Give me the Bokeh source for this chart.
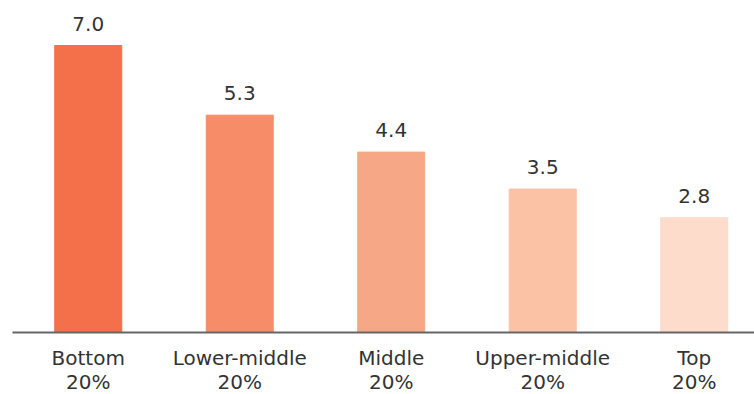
from bokeh.plotting import figure
from bokeh.models import ColumnDataSource, Range1d, FixedTicker
from bokeh.embed import file_html
from bokeh.resources import INLINE
from bokeh.core.properties import value

categories = ["Bottom\n20%", "Lower-middle\n20%", "Middle\n20%", "Upper-middle\n20%", "Top\n20%"]
values = [7.0, 5.3, 4.4, 3.5, 2.8]
colors = ["#F3704A", "#F68D68", "#F6A886", "#FBC2A5", "#FDDCCB"]
labels = ["7.0", "5.3", "4.4", "3.5", "2.8"]

xs = list(range(len(categories)))
src = ColumnDataSource(dict(x=xs, top=values, color=colors, label=labels))

p = figure(frame_width=742, frame_height=332, output_backend="svg", toolbar_location=None,
           x_range=Range1d(-0.5, 4.398), y_range=Range1d(0, 332/41.0),
           min_border_left=12, min_border_right=0, min_border_top=0, min_border_bottom=0)
p.vbar(x="x", top="top", width=67/151.5, color="color", source=src)
p.text(x="x", y="top", text="label", source=src, text_align="center", text_baseline="middle",
       y_offset=-22, text_font=value("DejaVu Sans"), text_font_size="20px", text_color="#333333")

p.yaxis.visible = False
p.xgrid.visible = False
p.ygrid.visible = False
p.outline_line_color = None
xa = p.xaxis[0]
xa.ticker = FixedTicker(ticks=xs)
xa.major_label_overrides = {i: c for i, c in enumerate(categories)}
xa.major_tick_line_color = None
xa.minor_tick_line_color = None
xa.axis_line_color = "#666666"
xa.axis_line_width = 2
xa.major_label_text_font = "DejaVu Sans"
xa.major_label_text_font_size = "20px"
xa.major_label_text_line_height = 1.0
xa.major_label_text_color = "#333333"
xa.major_label_standoff = 7

open("out.html", "w").write(file_html(p, INLINE))
